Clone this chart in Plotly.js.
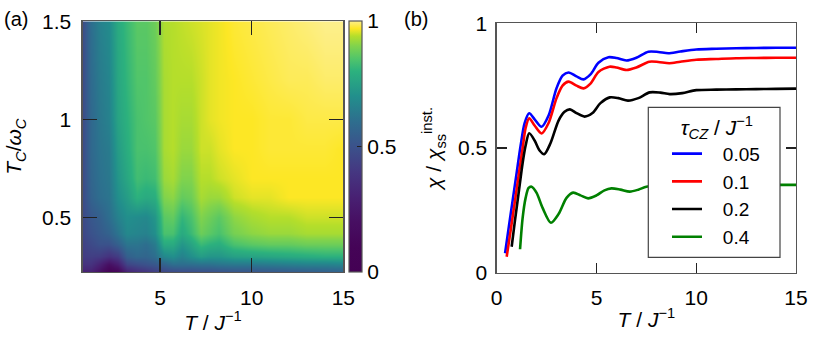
<!DOCTYPE html>
<html>
<head>
<meta charset="utf-8">
<script src="https://cdn.plot.ly/plotly-3.0.1.min.js"></script>
<style>html,body{margin:0;padding:0;background:#fff;}#chart{width:830px;height:338px;}</style>
</head>
<body>
<div id="chart"></div>
<script>
// ---------- panel (a): heatmap ----------
const heatT  = [0.78, 1.2, 1.7, 2.2, 2.7, 3.2, 3.7, 4.2, 4.7, 5.2, 5.7, 6.2, 6.7, 7.2, 7.7, 8.2, 9.0, 10.0, 11.0, 12.0, 13.0, 14.0, 15.0];
const heatTc = [0.22, 0.26, 0.30, 0.36, 0.42, 0.50, 0.60, 0.70, 0.85, 1.00, 1.20, 1.50];
const zRow022 = [0.30,0.30,0.20,0.08,0.12,0.30,0.35,0.38,0.42,0.45,0.46,0.47,0.47,0.48,0.48,0.49,0.50,0.50,0.51,0.52,0.53,0.54,0.55];
const zRow026 = [0.38,0.38,0.30,0.20,0.28,0.45,0.48,0.50,0.52,0.56,0.60,0.60,0.60,0.61,0.61,0.62,0.63,0.63,0.64,0.65,0.66,0.66,0.67];
const zRow030 = [0.42,0.43,0.42,0.38,0.42,0.55,0.58,0.57,0.60,0.68,0.70,0.66,0.70,0.74,0.72,0.72,0.75,0.76,0.77,0.78,0.79,0.80,0.80];
const zRow036 = [0.44,0.47,0.50,0.50,0.55,0.62,0.62,0.60,0.64,0.78,0.78,0.72,0.76,0.82,0.80,0.79,0.84,0.86,0.87,0.87,0.88,0.88,0.88];
const zRow042 = [0.46,0.50,0.53,0.56,0.62,0.68,0.67,0.66,0.70,0.84,0.84,0.78,0.82,0.88,0.86,0.84,0.89,0.91,0.92,0.92,0.93,0.93,0.93];
const zRow050 = [0.47,0.52,0.55,0.60,0.66,0.70,0.69,0.68,0.72,0.86,0.87,0.81,0.84,0.90,0.88,0.86,0.91,0.93,0.94,0.94,0.95,0.95,0.95];
const zRow060 = [0.48,0.56,0.60,0.62,0.70,0.74,0.80,0.78,0.79,0.90,0.91,0.87,0.88,0.93,0.92,0.92,0.95,0.96,0.96,0.97,0.97,0.97,0.97];
const zRow070 = [0.48,0.57,0.61,0.63,0.72,0.77,0.83,0.82,0.83,0.92,0.93,0.90,0.90,0.94,0.94,0.95,0.96,0.97,0.97,0.97,0.97,0.97,0.97];
const zRow085 = [0.48,0.58,0.62,0.64,0.74,0.79,0.84,0.84,0.85,0.93,0.94,0.92,0.92,0.95,0.95,0.96,0.97,0.97,0.975,0.975,0.975,0.975,0.97];
const zRow100 = [0.48,0.58,0.63,0.66,0.76,0.80,0.84,0.85,0.86,0.93,0.94,0.93,0.93,0.95,0.96,0.965,0.97,0.97,0.975,0.975,0.98,0.98,0.98];
const zRow120 = [0.48,0.59,0.64,0.67,0.77,0.81,0.85,0.85,0.87,0.93,0.94,0.94,0.94,0.95,0.96,0.965,0.97,0.975,0.98,0.985,0.985,0.99,0.99];
const zRow150 = [0.48,0.60,0.66,0.69,0.78,0.82,0.86,0.86,0.88,0.935,0.94,0.945,0.95,0.955,0.96,0.965,0.975,0.98,0.985,0.99,0.995,1.0,1.0];
const heatZ = [zRow022,zRow026,zRow030,zRow036,zRow042,zRow050,zRow060,zRow070,zRow085,zRow100,zRow120,zRow150];

const heatTicksX = [5, 10, 15];
const heatTicksY = [0.5, 1, 1.5];
const barTicks = [0, 0.5, 1];

// ---------- panel (b): curves ----------
const seriesNames = ['0.05', '0.1', '0.2', '0.4'];
const seriesColors = ['#0000ff', '#ff0000', '#000000', '#008000'];
const tBlue  = [0.42,0.6,0.8,1.0,1.2,1.4,1.63,1.9,2.25,2.6,3.0,3.3,3.6,4.0,4.35,4.7,5.1,5.6,6.0,6.5,7.0,7.6,8.1,8.6,9.2,10,11,12,13,14,15];
const vBlue  = [0.078,0.18,0.29,0.40,0.51,0.60,0.639,0.615,0.585,0.63,0.74,0.79,0.803,0.787,0.775,0.795,0.842,0.864,0.861,0.851,0.862,0.886,0.885,0.88,0.887,0.895,0.898,0.90,0.901,0.902,0.902];
const tRed   = [0.5,0.7,0.9,1.1,1.3,1.45,1.63,1.9,2.25,2.6,3.0,3.3,3.6,4.0,4.35,4.7,5.1,5.65,6.0,6.5,7.0,7.65,8.1,8.65,9.2,10,11,12,13,14,15];
const vRed   = [0.064,0.17,0.28,0.39,0.50,0.58,0.619,0.59,0.558,0.60,0.70,0.75,0.766,0.75,0.739,0.758,0.805,0.826,0.823,0.813,0.823,0.846,0.845,0.84,0.846,0.854,0.857,0.86,0.861,0.862,0.862];
const tBlack = [0.75,0.9,1.1,1.3,1.45,1.63,1.9,2.15,2.38,2.7,3.1,3.4,3.67,4.0,4.4,4.8,5.2,5.67,6.1,6.58,7.1,7.67,8.2,8.67,9.3,10,11,12,13,14,15];
const vBlack = [0.104,0.20,0.32,0.44,0.51,0.559,0.53,0.49,0.475,0.52,0.61,0.645,0.655,0.64,0.626,0.64,0.68,0.703,0.70,0.69,0.70,0.723,0.722,0.716,0.72,0.732,0.734,0.735,0.736,0.737,0.738];
const tGreen = [1.17,1.3,1.45,1.6,1.75,2.0,2.3,2.72,3.1,3.5,3.83,4.2,4.58,5.0,5.4,5.75,6.2,6.67,7.1,7.5,8,9,10,11,12,13,14,15];
const vGreen = [0.094,0.22,0.30,0.34,0.345,0.32,0.26,0.20,0.235,0.30,0.321,0.31,0.298,0.31,0.33,0.338,0.333,0.325,0.333,0.345,0.348,0.35,0.35,0.351,0.352,0.352,0.352,0.352];
const curveT = [tBlue, tRed, tBlack, tGreen];
const curveV = [vBlue, vRed, vBlack, vGreen];
const curveTicksX = [0, 5, 10, 15];
const curveTicksY = [0, 0.5, 1];

const W = 830, H = 338;
const FONT = 'Liberation Sans, Arial, Helvetica, sans-serif';
const fs = 21;
const NB = '\u00a0';

const colorscale = [
  [0.00, '#440154'], [0.10, '#450457'], [0.20, '#470f62'], [0.30, '#482173'],
  [0.40, '#453781'], [0.50, '#3b528b'], [0.60, '#2e6e8e'], [0.70, '#228f8c'],
  [0.80, '#2cb17e'], [0.85, '#51c56a'], [0.90, '#80d34d'], [0.94, '#b5de2b'],
  [0.97, '#fde725'], [1.00, '#fdef8c']
];

const traces = [{
  type: 'heatmap', x: heatT, y: heatTc, z: heatZ,
  zmin: 0, zmax: 1, zsmooth: 'best', colorscale: colorscale,
  xaxis: 'x', yaxis: 'y', hoverinfo: 'skip', showlegend: false,
  colorbar: {
    thickness: 13.4, thicknessmode: 'pixels', len: 251, lenmode: 'pixels',
    x: 349.3 / W, xanchor: 'left', y: (H - 146.5) / H, yanchor: 'middle',
    xpad: 0, ypad: 0, outlinewidth: 1.2, outlinecolor: '#555',
    tickvals: barTicks, ticktext: barTicks.map(String), ticks: 'inside', ticklen: 5,
    tickcolor: '#222', tickwidth: 1.2, tickfont: {family: FONT, size: fs, color: '#000'}
  }
}];
for (let i = 0; i < seriesNames.length; i++) {
  traces.push({
    type: 'scatter', mode: 'lines', x: curveT[i], y: curveV[i],
    name: NB + NB + NB + seriesNames[i],
    line: {color: seriesColors[i], width: 2.6, shape: 'spline', smoothing: 0.8},
    xaxis: 'x2', yaxis: 'y2'
  });
}

const axisCommon = {
  showgrid: false, zeroline: false, showline: true, mirror: 'allticks',
  linecolor: '#555', linewidth: 1.3, ticks: 'inside', tickcolor: '#222', tickwidth: 1.3,
  tickfont: {family: FONT, size: fs, color: '#000'}
};

const layout = {
  width: W, height: H, margin: {l: 0, r: 0, t: 0, b: 0},
  paper_bgcolor: '#fff', plot_bgcolor: '#fff',
  font: {family: FONT, size: fs, color: '#000'},
  xaxis: Object.assign({}, axisCommon, {
    domain: [82.7 / W, 343.3 / W], range: [0.78, 15], tickvals: heatTicksX, ticklen: 14,
    anchor: 'y', ticklabelstandoff: 6,
    title: {text: '<i>T</i> / <i>J</i><sup>−1</sup>', font: {family: FONT, size: fs}, standoff: 4}
  }),
  yaxis: Object.assign({}, axisCommon, {
    domain: [(H - 272) / H, (H - 21.3) / H], range: [0.22, 1.5], tickvals: heatTicksY,
    ticktext: ['0.5', '1', '1.5'], ticklen: 14, anchor: 'x', ticklabelstandoff: 6,
    title: {text: '<i>T</i><sub><i>C</i></sub>/<i>ω</i><sub><i>C</i></sub>', font: {family: FONT, size: fs}, standoff: 14}
  }),
  xaxis2: Object.assign({}, axisCommon, {
    domain: [496.7 / W, 796 / W], range: [0, 15], tickvals: curveTicksX, ticklen: 10,
    anchor: 'y2', ticklabelstandoff: 6,
    title: {text: '<i>T</i> / <i>J</i><sup>−1</sup>', font: {family: FONT, size: fs}, standoff: 4}
  }),
  yaxis2: Object.assign({}, axisCommon, {
    domain: [(H - 272.7) / H, (H - 23.3) / H], range: [0, 1], tickvals: curveTicksY,
    ticktext: ['0', '0.5', '1'], ticklen: 10, anchor: 'x2', ticklabelstandoff: 4,
    title: {text: '<i>χ</i> / <i>χ</i><sub>ss</sub><sup>inst.</sup>', font: {family: FONT, size: fs}, standoff: 10}
  }),
  shapes: [{
    type: 'rect', xref: 'paper', yref: 'paper', layer: 'above',
    x0: 648.3 / W, x1: 780 / W, y0: (H - 257.3) / H, y1: (H - 107.3) / H,
    fillcolor: '#fff', line: {color: '#444', width: 1.2}
  }],
  showlegend: true,
  legend: {
    x: 667 / W, y: (H - 107.5) / H, xanchor: 'left', yanchor: 'top',
    bgcolor: 'rgba(0,0,0,0)', borderwidth: 0,
    font: {family: FONT, size: 19, color: '#000'},
    title: {text: NB + NB + '<i>τ</i><sub><i>CZ</i></sub> / <i>J</i><sup>−1</sup>', font: {family: FONT, size: fs}},
    tracegroupgap: 0, itemwidth: 30
  },
  annotations: [
    {text: '(a)', xref: 'paper', yref: 'paper', x: 2 / W, y: (H - 6) / H, xanchor: 'left', yanchor: 'top', showarrow: false, font: {family: FONT, size: 20}},
    {text: '(b)', xref: 'paper', yref: 'paper', x: 402 / W, y: (H - 6) / H, xanchor: 'left', yanchor: 'top', showarrow: false, font: {family: FONT, size: 20}}
  ]
};

Plotly.newPlot('chart', traces, layout, {displayModeBar: false, staticPlot: true});
</script>
</body>
</html>
